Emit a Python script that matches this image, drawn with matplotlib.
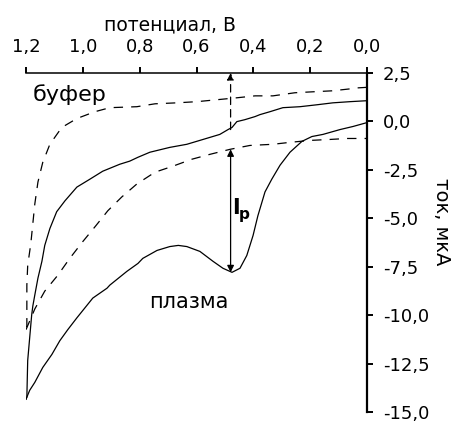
import matplotlib
matplotlib.use("Agg")
import matplotlib.pyplot as plt

plt.rcParams['font.family'] = ['DejaVu Sans']

# Buffer (dashed) loop
buf_up_x = [0.0, 0.035, 0.060, 0.123, 0.190, 0.254, 0.331, 0.394, 0.458, 0.528, 0.599, 0.669, 0.746,
            0.810, 0.905, 0.958, 1.021, 1.074, 1.116, 1.141, 1.158, 1.169, 1.176, 1.183, 1.194,
            1.197, 1.197, 1.197, 1.200]
buf_up_y = [1.76, 1.73, 1.68, 1.58, 1.53, 1.48, 1.32, 1.32, 1.22, 1.12, 1.02, 0.96, 0.91,
            0.76, 0.71, 0.50, 0.15, -0.31, -1.18, -2.11, -3.13, -4.26, -5.28, -6.30, -7.43,
            -8.45, -9.48, -10.55, -10.75]
buf_dn_x = [1.200, 1.169, 1.134, 1.088, 1.046, 1.000, 0.954, 0.912, 0.863, 0.810, 0.746, 0.683,
            0.616, 0.553, 0.482, 0.412, 0.331, 0.271, 0.201, 0.130, 0.070, 0.035, 0.0]
buf_dn_y = [-10.75, -9.68, -8.76, -7.94, -7.07, -6.20, -5.38, -4.61, -3.90, -3.23, -2.62, -2.31,
            -1.95, -1.70, -1.44, -1.24, -1.18, -1.08, -0.98, -0.93, -0.88, -0.88, -0.88]

# Plasma (solid) loop
pl_up_x = [0.0, 0.060, 0.120, 0.176, 0.236, 0.296, 0.342, 0.377, 0.394, 0.430, 0.458, 0.475,
           0.489, 0.518, 0.577, 0.634, 0.694, 0.764, 0.806, 0.835, 0.870, 0.930, 0.975, 1.021,
           1.063, 1.092, 1.116, 1.134, 1.144, 1.158, 1.169, 1.176, 1.180, 1.187, 1.194, 1.197, 1.200]
pl_up_y = [1.07, 1.02, 0.96, 0.86, 0.76, 0.71, 0.50, 0.35, 0.25, 0.09, -0.01, -0.31,
           -0.42, -0.67, -0.93, -1.18, -1.34, -1.59, -1.85, -2.05, -2.21, -2.57, -2.98, -3.39,
           -4.10, -4.66, -5.53, -6.40, -7.22, -8.09, -8.96, -9.53, -9.99, -11.16, -12.34, -14.23, -14.34]
pl_dn_x = [1.200, 1.187, 1.169, 1.141, 1.109, 1.081, 1.053, 1.021, 0.993, 0.965, 0.915, 0.905,
           0.845, 0.806, 0.789, 0.739, 0.694, 0.664, 0.634, 0.588, 0.542, 0.507, 0.475, 0.447,
           0.423, 0.401, 0.384, 0.359, 0.335, 0.306, 0.271, 0.229, 0.194, 0.155, 0.095, 0.049, 0.0]
pl_dn_y = [-14.34, -13.88, -13.47, -12.70, -12.03, -11.32, -10.75, -10.14, -9.63, -9.12, -8.61, -8.45,
           -7.74, -7.33, -7.07, -6.66, -6.46, -6.40, -6.46, -6.71, -7.22, -7.58, -7.79, -7.58,
           -6.92, -5.89, -4.87, -3.64, -2.98, -2.26, -1.59, -1.03, -0.78, -0.67, -0.42, -0.26, -0.06]

x_ticks = [1.2, 1.0, 0.8, 0.6, 0.4, 0.2, 0.0]
x_ticklabels = ['1,2', '1,0', '0,8', '0,6', '0,4', '0,2', '0,0']
y_ticks = [2.5, 0.0, -2.5, -5.0, -7.5, -10.0, -12.5, -15.0]
y_ticklabels = ['2,5', '0,0', '-2,5', '-5,0', '-7,5', '-10,0', '-12,5', '-15,0']

peak_x = 0.48
peak_top = -1.44
peak_bottom = -7.79
upper_at_peak = -0.42

W, H = 455, 423
fig = plt.figure(figsize=(W / 100, H / 100), dpi=100)
ax = fig.add_axes([26 / W, 1 - 412 / H, (367 - 26) / W, (412 - 73) / H])

lw = 0.9
dash = (7.5, 6.5)
ax.plot(buf_up_x, buf_up_y, color='black', lw=lw, dashes=dash)
ax.plot(buf_dn_x, buf_dn_y, color='black', lw=lw, dashes=dash)
ax.plot(pl_up_x, pl_up_y, color='black', lw=lw)
ax.plot(pl_dn_x, pl_dn_y, color='black', lw=lw)

ax.set_xlim(1.2, 0.0)
ax.set_ylim(-15.0, 2.5)

ax.spines['left'].set_visible(False)
ax.spines['bottom'].set_visible(False)
ax.spines['top'].set_linewidth(1.1)
ax.spines['right'].set_linewidth(1.6)

ax.xaxis.tick_top()
ax.yaxis.tick_right()
ax.set_xticks(x_ticks)
ax.set_xticklabels(x_ticklabels)
ax.set_yticks(y_ticks)
ax.set_yticklabels(y_ticklabels)
ax.tick_params(axis='x', direction='out', length=4, width=1.4, pad=8.5, labelsize=13)
ax.tick_params(axis='y', direction='out', length=4, width=1.4, pad=7.5, labelsize=13)

# dashed arrow from upper solid to top axis
ax.annotate('', xy=(peak_x, 2.5), xytext=(peak_x, upper_at_peak),
            arrowprops=dict(arrowstyle='-|>', color='black', lw=0.9, linestyle=(0, (6, 4)),
                            mutation_scale=10, shrinkA=0, shrinkB=0), annotation_clip=False)
# solid double arrow I_p
ax.annotate('', xy=(peak_x, peak_bottom), xytext=(peak_x, peak_top),
            arrowprops=dict(arrowstyle='<|-|>', color='black', lw=0.9,
                            mutation_scale=10, shrinkA=0, shrinkB=0))

ax.text(1.176, 1.37, 'буфер', fontsize=16, ha='left', va='center')
ax.text(0.627, -9.3, 'плазма', fontsize=15, ha='center', va='center')
ax.text(0.474, -4.45, 'I', fontsize=15, fontweight='bold', ha='left', va='center')
ax.text(0.452, -4.8, 'p', fontsize=11, fontweight='bold', ha='left', va='center')

fig.text(170 / W, 1 - 25 / H, 'потенциал, В', fontsize=13.5, ha='center', va='center')
fig.text(442 / W, 1 - 222 / H, 'ток, мкА', fontsize=14, ha='center', va='center', rotation=270)

fig.savefig('out.png', dpi=100)
